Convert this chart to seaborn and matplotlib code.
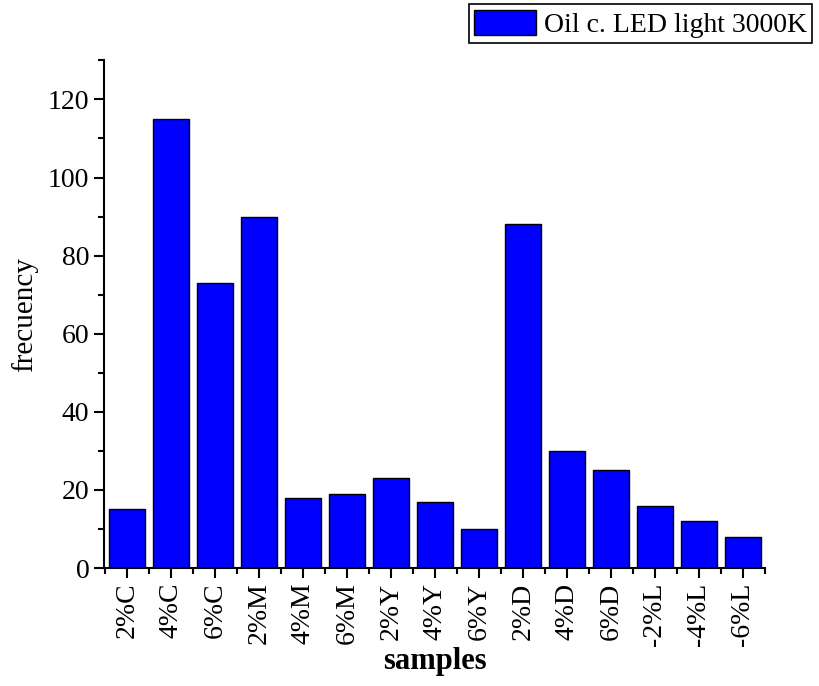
import numpy as np
import seaborn as sns
from matplotlib import pyplot as plt
from matplotlib.ticker import MultipleLocator, FixedLocator

samples = ["2%C", "4%C", "6%C", "2%M", "4%M", "6%M", "2%Y", "4%Y", "6%Y",
           "2%D", "4%D", "6%D", "-2%L", "-4%L", "-6%L"]
frecuency = [15, 115, 73, 90, 18, 19, 23, 17, 10, 88, 30, 25, 16, 12, 8]
series_label = "Oil c. LED light 3000K"

sns.set_style("ticks")
plt.rcParams['font.family'] = ['Liberation Serif', 'DejaVu Serif']
plt.rcParams['font.size'] = 20
for key in ["text.color", "axes.labelcolor", "xtick.color", "ytick.color", "axes.edgecolor"]:
    plt.rcParams[key] = "black"

fig = plt.figure(figsize=(8.19, 6.86), dpi=100)
ax = fig.add_axes([0.127, 0.172, 0.807, 0.740])

sns.barplot(x=samples, y=frecuency, color="#0000ff", edgecolor="black",
            linewidth=1.0, width=0.82, saturation=1, label=series_label, ax=ax)

ax.set_ylim(0, 130)
ax.set_xlim(-0.52, 14.5)
ax.yaxis.set_major_locator(MultipleLocator(20))
ax.yaxis.set_minor_locator(MultipleLocator(10))
ax.xaxis.set_minor_locator(FixedLocator(np.arange(-0.5, 15, 1)))
ax.tick_params(axis="both", which="major", direction="out", length=7, width=1.5, labelsize=20)
ax.tick_params(axis="both", which="minor", direction="out", length=4, width=1.5)
ax.tick_params(axis="x", labelrotation=90)
sns.despine(ax=ax)
for s in ["left", "bottom"]:
    ax.spines[s].set_linewidth(1.5)

ax.set_xlabel("samples", fontsize=22, fontweight="bold", labelpad=1)
ax.set_ylabel("frecuency", fontsize=21, labelpad=7)

if ax.get_legend():
    ax.get_legend().remove()
handles, labels = ax.get_legend_handles_labels()
leg = fig.legend(handles, labels, loc="upper right", bbox_to_anchor=(0.992, 0.994),
                 fontsize=20, fancybox=False, framealpha=1, edgecolor="black",
                 borderaxespad=0, handlelength=2.2, handleheight=1.0,
                 handletextpad=0.3, borderpad=0.2)
leg.get_frame().set_linewidth(1.2)

plt.savefig("out.png", dpi=100)
